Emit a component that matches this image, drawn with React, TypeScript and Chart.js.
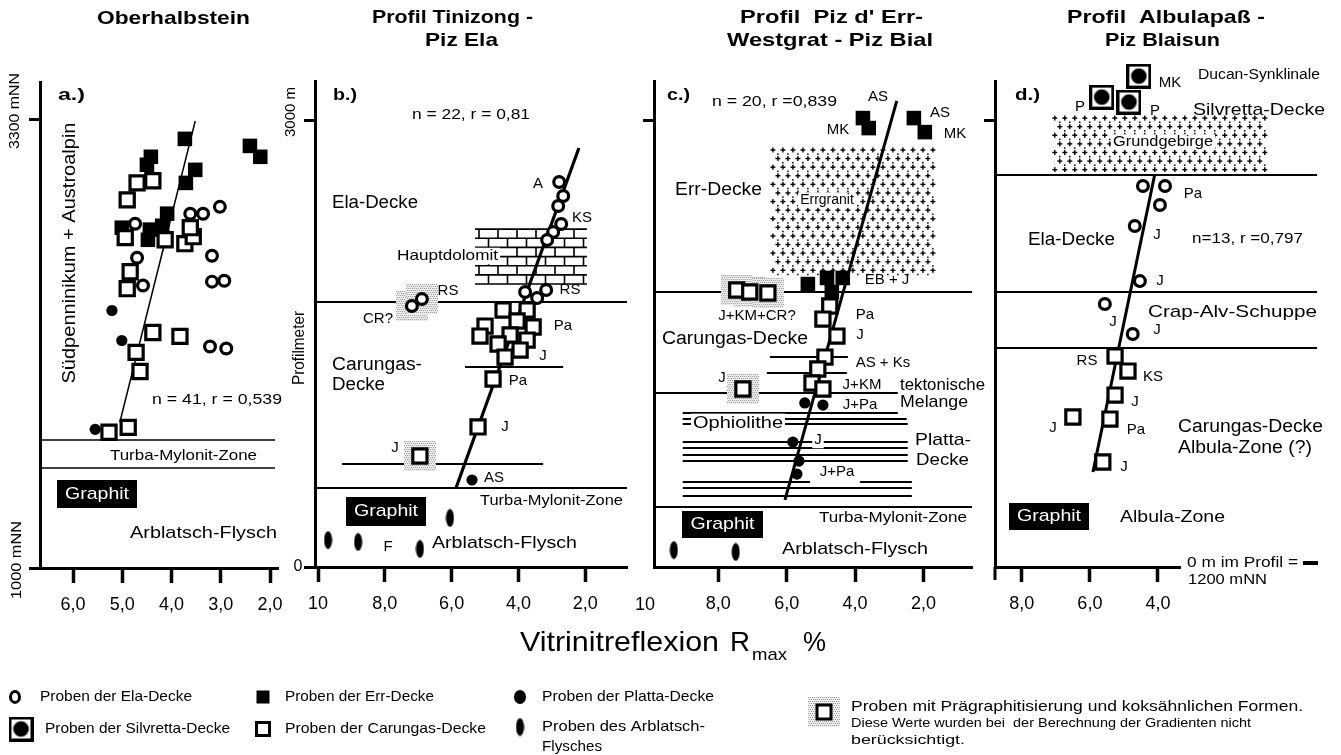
import React, { useEffect, useRef } from 'react';
import { Chart, registerables } from 'chart.js';

Chart.register(...registerables);

const W = 1341;
const H = 755;
const FONT = '"Liberation Sans", Arial, Helvetica, sans-serif';
Chart.defaults.font.family = FONT;

// ===================== DATA =====================
// Panel a – Oberhalbstein (x: Vitrinitreflexion Rmax %, y: m NN)
const aErrR = [3.73, 2.41, 2.2, 4.42, 4.5, 3.52, 3.71, 4.09, 5.01, 4.44, 4.19, 4.48];
const aErrH = [3203, 3167, 3111, 3111, 3070, 3044, 2977, 2819, 2747, 2737, 2757, 2685];
const aCarR = [4.7, 4.38, 4.9, 4.94, 4.13, 3.73, 3.56, 3.62, 4.84, 4.9, 4.38, 3.83, 4.72, 4.64, 5.27, 4.88];
const aCarH = [2977, 2988, 2890, 2696, 2685, 2665, 2701, 2747, 2521, 2434, 2209, 2189, 2107, 2009, 1697, 1722];
const aElaR = [4.74, 3.62, 3.36, 3.02, 4.7, 3.18, 3.18, 2.93, 4.58, 3.22, 2.89];
const aElaH = [2767, 2819, 2819, 2854, 2593, 2603, 2470, 2475, 2450, 2137, 2127];
const aPlaR = [5.21, 5.01, 5.55];
const aPlaH = [2322, 2168, 1712];
const aFitR = [5.05, 3.52];
const aFitH = [1748, 3295];
const aTicksR = [6, 5, 4, 3, 2];
const aTicksH = [1000, 3300];
const aBounds = [[1656, 6.67, 1.9], [1512, 6.67, 1.9]];

// Panel b – Profil Tinizong - Piz Ela (y: Profilmeter)
const bElaR = [2.78, 2.66, 2.81, 2.72, 2.96, 3.14, 3.8, 3.17, 3.44];
const bElaM = [2584, 2490, 2423, 2302, 2248, 2195, 1846, 1859, 1805];
const bCarR = [4.46, 3.74, 5.0, 4.04, 3.56, 5.15, 4.25, 3.74, 4.61, 3.95, 4.4, 4.76, 5.21];
const bCarM = [1725, 1725, 1617, 1651, 1611, 1550, 1557, 1523, 1497, 1456, 1409, 1262, 940];
const bPlaR = [5.39];
const bPlaM = [584];
const bPreElaR = [7.19, 6.89];
const bPreElaM = [1752, 1799];
const bPreCarR = [6.95];
const bPreCarM = [745];
const bArbR = [9.7, 8.8, 6.95, 6.05];
const bArbM = [181, 168, 121, 329];
const bFitR = [5.87, 2.19];
const bFitM = [530, 2812];
const bTicksR = [10, 8, 6, 4, 2];
const bTicksM = [0, 3000];
const bBounds = [[1779, 10.09, 0.75], [1342, 5.6, 2.66], [691, 9.28, 3.26], [530, 10.09, 0.75]];
const bDolomit = [5.3, 1.95, 2268, 1899];

// Panel c – Profil Piz d' Err-Westgrat - Piz Bial
const cErrR = [3.77, 3.6, 2.28, 1.96, 5.38, 4.82, 4.36, 4.68];
const cErrM = [3013, 2946, 3013, 2919, 1899, 1940, 1940, 1846];
const cCarR = [4.74, 4.94, 4.53, 4.88, 5.09, 5.26, 4.94];
const cCarM = [1752, 1664, 1550, 1409, 1329, 1235, 1195];
const cPlaR = [5.47, 4.94, 5.82, 5.64, 5.7];
const cPlaM = [1101, 1087, 839, 711, 624];
const cPreCarR = [7.46, 7.08, 6.55, 7.28];
const cPreCarM = [1859, 1846, 1839, 1195];
const cArbR = [9.3, 7.49];
const cArbM = [114, 101];
const cFitR = [6.05, 2.78];
const cFitM = [450, 3128];
const cTicksR = [8, 6, 4, 2];
const cTicksM = [3000];
const cBounds = [
  [1846, 9.88, 0.58], [1409, 6.49, 4.21], [1302, 6.58, 4.24], [1168, 9.85, 2.75],
  [1034, 9.04, 2.75], [993, 9.04, 2.49], [960, 9.04, 2.46], [839, 9.04, 2.46],
  [799, 9.04, 2.46], [752, 9.04, 2.46], [711, 9.04, 2.46], [570, 9.04, 5.32],
  [570, 3.86, 2.34], [530, 9.04, 2.34], [477, 9.04, 2.34], [403, 9.88, 0.58],
];
const cGranit = [6.49, 1.61, 2826, 1946];

// Panel d – Profil Albulapaß - Piz Blaisun
const dSilR = [4.56, 5.65, 4.85];
const dSilM = [3295, 3154, 3121];
const dElaR = [4.44, 3.79, 3.94, 4.68, 4.53, 5.56, 4.74];
const dElaM = [2557, 2557, 2430, 2289, 1919, 1765, 1564];
const dCarR = [5.26, 4.88, 5.26, 5.41, 6.5, 5.62];
const dCarM = [1416, 1315, 1154, 993, 1007, 705];
const dFitR = [5.91, 4.09];
const dFitM = [638, 2638];
const dTicksR = [8, 6, 4];
const dTicksM = [3000];
const dBounds = [[2631, 8.79, -0.68], [1846, 8.79, -0.68], [1470, 8.79, -0.68]];
const dGrund = [7.12, 0.76, 3040, 2651];

// ===================== LAYOUT (page pixels) =====================
const TA = [
  { s: 'Oberhalbstein', x: 97, y: 19, f: 19, b: true, w: 153, a: 'l' },
  { s: 'a.)', x: 58, y: 95, f: 17, b: true, w: 27, a: 'l' },
  { s: '3300 mNN', x: 15, y: 111, f: 15, r: true, w: 76 },
  { s: '1000 mNN', x: 17, y: 560, f: 15, r: true, w: 78 },
  { s: 'Südpenninikum + Austroalpin', x: 70, y: 253, f: 19, r: true, w: 261 },
  { s: 'n = 41, r = 0,539', x: 152, y: 400, f: 15, w: 130, a: 'l' },
  { s: 'Turba-Mylonit-Zone', x: 110, y: 456, f: 15, w: 147, a: 'l' },
  { s: 'Arblatsch-Flysch', x: 130, y: 533, f: 17, w: 147, a: 'l' },
];
const TB = [
  { s: 'Profil Tinizong -', x: 372, y: 18, f: 19, b: true, w: 161, a: 'l' },
  { s: 'Piz Ela', x: 425, y: 41, f: 19, b: true, w: 73, a: 'l' },
  { s: 'b.)', x: 333, y: 95, f: 17, b: true, w: 24, a: 'l' },
  { s: '3000 m', x: 291, y: 112, f: 15, r: true },
  { s: 'Profilmeter', x: 300, y: 348, f: 16, r: true, w: 74 },
  { s: '0', x: 298, y: 567, f: 16 },
  { s: 'n = 22, r = 0,81', x: 412, y: 115, f: 15, w: 118, a: 'l' },
  { s: 'Ela-Decke', x: 332, y: 203, f: 18, w: 86, a: 'l' },
  { s: 'Hauptdolomit', x: 397, y: 256, f: 15, w: 101, a: 'l', bg: true },
  { s: 'RS', x: 448, y: 291, f: 15 },
  { s: 'CR?', x: 378, y: 319, f: 15 },
  { s: 'A', x: 538, y: 184, f: 15 },
  { s: 'KS', x: 582, y: 218, f: 15 },
  { s: 'RS', x: 570, y: 290, f: 15 },
  { s: 'Pa', x: 563, y: 326, f: 15 },
  { s: 'J', x: 543, y: 356, f: 15 },
  { s: 'Pa', x: 518, y: 381, f: 15 },
  { s: 'J', x: 505, y: 427, f: 15 },
  { s: 'J', x: 395, y: 448, f: 15 },
  { s: 'AS', x: 494, y: 478, f: 15 },
  { s: 'Carungas-', x: 332, y: 365, f: 18, w: 90, a: 'l' },
  { s: 'Decke', x: 332, y: 385, f: 18, w: 53, a: 'l' },
  { s: 'Turba-Mylonit-Zone', x: 480, y: 501, f: 15, w: 143, a: 'l' },
  { s: 'F', x: 388, y: 547, f: 15 },
  { s: 'Arblatsch-Flysch', x: 432, y: 543, f: 17, w: 145, a: 'l' },
];
const TC = [
  { s: "Profil  Piz d' Err-", x: 740, y: 18, f: 19, b: true, w: 183, a: 'l' },
  { s: 'Westgrat - Piz Bial', x: 727, y: 41, f: 19, b: true, w: 206, a: 'l' },
  { s: 'c.)', x: 667, y: 95, f: 17, b: true, w: 23, a: 'l' },
  { s: 'n = 20, r =0,839', x: 712, y: 102, f: 15, w: 125, a: 'l' },
  { s: 'AS', x: 878, y: 97, f: 15 },
  { s: 'MK', x: 838, y: 130, f: 15 },
  { s: 'AS', x: 940, y: 113, f: 15 },
  { s: 'MK', x: 955, y: 134, f: 15 },
  { s: 'Err-Decke', x: 675, y: 190, f: 18, w: 87, a: 'l' },
  { s: 'Errgranit', x: 827, y: 200, f: 14, bg: true },
  { s: 'EB + J', x: 887, y: 280, f: 15 },
  { s: 'J+KM+CR?', x: 757, y: 316, f: 15 },
  { s: 'Pa', x: 865, y: 315, f: 15 },
  { s: 'J', x: 860, y: 335, f: 15 },
  { s: 'Carungas-Decke', x: 662, y: 339, f: 18, w: 146, a: 'l' },
  { s: 'AS + Ks', x: 883, y: 363, f: 15 },
  { s: 'J', x: 722, y: 378, f: 15 },
  { s: 'J+KM', x: 862, y: 385, f: 15 },
  { s: 'tektonische', x: 900, y: 385, f: 17, w: 85, a: 'l' },
  { s: 'Melange', x: 900, y: 402, f: 17, w: 68, a: 'l' },
  { s: 'J+Pa', x: 860, y: 405, f: 15 },
  { s: 'Ophiolithe', x: 693, y: 423, f: 17, w: 90, a: 'l', bg: true },
  { s: 'J', x: 818, y: 440, f: 15, bg: true },
  { s: 'J+Pa', x: 837, y: 472, f: 15, bg: true },
  { s: 'Platta-', x: 915, y: 440, f: 17, w: 56, a: 'l' },
  { s: 'Decke', x: 916, y: 460, f: 17, w: 53, a: 'l' },
  { s: 'Turba-Mylonit-Zone', x: 819, y: 518, f: 15, w: 148, a: 'l' },
  { s: 'Arblatsch-Flysch', x: 782, y: 549, f: 17, w: 146, a: 'l' },
  { s: '10', x: 645, y: 605, f: 18 },
];
const TD = [
  { s: 'Profil  Albulapaß -', x: 1067, y: 18, f: 19, b: true, w: 198, a: 'l' },
  { s: 'Piz Blaisun', x: 1105, y: 41, f: 19, b: true, w: 115, a: 'l' },
  { s: 'd.)', x: 1015, y: 95, f: 17, b: true, w: 25, a: 'l' },
  { s: 'MK', x: 1170, y: 83, f: 15 },
  { s: 'P', x: 1080, y: 107, f: 15 },
  { s: 'P', x: 1155, y: 111, f: 15 },
  { s: 'Ducan-Synklinale', x: 1198, y: 75, f: 14, w: 122, a: 'l' },
  { s: 'Silvretta-Decke', x: 1193, y: 110, f: 17, w: 132, a: 'l' },
  { s: 'Grundgebirge', x: 1113, y: 142, f: 14, w: 100, a: 'l', bg: true },
  { s: 'Pa', x: 1193, y: 194, f: 15 },
  { s: 'J', x: 1157, y: 235, f: 15 },
  { s: 'n=13, r =0,797', x: 1192, y: 239, f: 15, w: 111, a: 'l' },
  { s: 'Ela-Decke', x: 1028, y: 240, f: 18, w: 87, a: 'l' },
  { s: 'J', x: 1160, y: 281, f: 15 },
  { s: 'Crap-Alv-Schuppe', x: 1148, y: 312, f: 17, w: 169, a: 'l' },
  { s: 'J', x: 1113, y: 322, f: 15 },
  { s: 'J', x: 1157, y: 330, f: 15 },
  { s: 'RS', x: 1087, y: 361, f: 15 },
  { s: 'KS', x: 1153, y: 377, f: 15 },
  { s: 'J', x: 1135, y: 402, f: 15 },
  { s: 'J', x: 1053, y: 428, f: 15 },
  { s: 'Pa', x: 1136, y: 430, f: 15 },
  { s: 'J', x: 1124, y: 467, f: 15 },
  { s: 'Carungas-Decke', x: 1178, y: 427, f: 18, w: 145, a: 'l' },
  { s: 'Albula-Zone (?)', x: 1178, y: 448, f: 18, w: 134, a: 'l' },
  { s: 'Albula-Zone', x: 1120, y: 517, f: 17, w: 105, a: 'l' },
  { s: '0 m im Profil =', x: 1187, y: 563, f: 15, w: 111, a: 'l' },
  { s: '1200 mNN', x: 1188, y: 580, f: 15, w: 79, a: 'l' },
];
const GRAPHIT_BOXES = [[57, 480, 80, 28], [346, 497, 80, 29], [682, 511, 81, 27], [1009, 503, 80, 27]];

const LEGEND_TEXT = [
  { s: 'Proben der Ela-Decke', x: 40, y: 697, f: 15, w: 152, a: 'l' },
  { s: 'Proben der Err-Decke', x: 285, y: 697, f: 15, w: 149, a: 'l' },
  { s: 'Proben der Platta-Decke', x: 542, y: 697, f: 15, w: 172, a: 'l' },
  { s: 'Proben der Silvretta-Decke', x: 45, y: 729, f: 15, w: 185, a: 'l' },
  { s: 'Proben der Carungas-Decke', x: 285, y: 729, f: 15, w: 201, a: 'l' },
  { s: 'Proben des Arblatsch-', x: 542, y: 727, f: 15, w: 163, a: 'l' },
  { s: 'Flysches', x: 542, y: 747, f: 15, w: 60, a: 'l' },
  { s: 'Proben mit Prägraphitisierung und koksähnlichen Formen.', x: 851, y: 707, f: 15, w: 452, a: 'l' },
  { s: 'Diese Werte wurden bei  der Berechnung der Gradienten nicht', x: 851, y: 723, f: 13.5, w: 400, a: 'l' },
  { s: 'berücksichtigt.', x: 851, y: 740, f: 13.5, w: 114, a: 'l' },
  { s: 'Vitrinitreflexion', x: 520, y: 643, f: 28, w: 199, a: 'l' },
  { s: 'R', x: 730, y: 643, f: 28, w: 20, a: 'l' },
  { s: 'max', x: 752, y: 655, f: 17, w: 35, a: 'l' },
  { s: '%', x: 803, y: 643, f: 28, w: 23, a: 'l' },
];

// ===================== HELPERS =====================
function drawText(ctx: any, t: any) {
  ctx.save();
  ctx.font = `${t.b ? 'bold ' : ''}${t.f}px ${FONT}`;
  ctx.textBaseline = 'middle';
  ctx.textAlign = 'left';
  const m = ctx.measureText(t.s).width;
  const sx = t.w ? t.w / m : 1;
  const ww = m * sx;
  ctx.translate(t.x, t.y);
  if (t.r) ctx.rotate(-Math.PI / 2);
  const ox = t.a === 'l' ? 0 : -ww / 2;
  if (t.bg) {
    ctx.fillStyle = '#fff';
    ctx.fillRect(ox - 2, -t.f * 0.55, ww + 4, t.f * 1.1);
  }
  ctx.fillStyle = t.c || '#000';
  ctx.translate(ox, 0);
  ctx.scale(sx, 1);
  ctx.fillText(t.s, 0, 0);
  ctx.restore();
}

function norm(x0: number, y0: number, x1: number, y1: number) {
  return { l: Math.min(x0, x1), r: Math.max(x0, x1), t: Math.min(y0, y1), b: Math.max(y0, y1) };
}

function drawBricks(ctx: any, x0: number, y0: number, x1: number, y1: number) {
  const { l, r, t, b } = norm(x0, y0, x1, y1);
  ctx.save();
  ctx.fillStyle = '#fff';
  ctx.fillRect(l, t, r - l, b - t);
  ctx.beginPath();
  ctx.rect(l - 1, t - 1, r - l + 2, b - t + 2);
  ctx.clip();
  ctx.strokeStyle = '#000';
  ctx.lineWidth = 1.6;
  const rows = 6;
  const rh = (b - t) / rows;
  const bw = 19;
  ctx.beginPath();
  for (let i = 0; i <= rows; i++) {
    const y = t + i * rh;
    ctx.moveTo(l, y);
    ctx.lineTo(r, y);
  }
  for (let i = 0; i < rows; i++) {
    const off = (i % 2) * bw / 2;
    for (let x = l + 4 + off; x < r; x += bw) {
      ctx.moveTo(x, t + i * rh);
      ctx.lineTo(x, t + (i + 1) * rh);
    }
  }
  ctx.stroke();
  ctx.restore();
}

function drawCrosses(ctx: any, x0: number, y0: number, x1: number, y1: number) {
  const { l, r, t, b } = norm(x0, y0, x1, y1);
  ctx.save();
  ctx.fillStyle = '#fff';
  ctx.fillRect(l, t, r - l, b - t);
  ctx.beginPath();
  ctx.rect(l, t, r - l, b - t);
  ctx.clip();
  ctx.fillStyle = '#000';
  let j = 0;
  for (let y = t + 4; y < b; y += 8.6, j++) {
    for (let x = l + 3 + (j % 2) * 5; x < r; x += 10) {
      ctx.fillRect(x - 2.5, y - 0.7, 5, 1.4);
      ctx.fillRect(x - 0.7, y - 2.5, 1.4, 5);
      ctx.fillRect(x + 4.2, y + 3.4, 1.5, 1.5);
    }
  }
  ctx.restore();
}

function makeImages() {
  const mk = (w: number, h: number) => {
    const c = document.createElement('canvas');
    c.width = w;
    c.height = h;
    return [c, c.getContext('2d')] as any;
  };
  const [halo, hg] = mk(32, 30);
  hg.fillStyle = '#ededed';
  hg.fillRect(0, 0, 32, 30);
  hg.fillStyle = '#9a9a9a';
  for (let y = 0; y < 30; y += 2) for (let x = (y % 4) / 2; x < 32; x += 2) hg.fillRect(x, y, 1, 1);
  const [ell, eg] = mk(9, 19);
  eg.fillStyle = '#000';
  eg.beginPath();
  eg.ellipse(4.5, 9.5, 4, 9, 0, 0, Math.PI * 2);
  eg.fill();
  const [sil, sg] = mk(25, 25);
  sg.fillStyle = '#000';
  sg.fillRect(0, 0, 25, 25);
  sg.fillStyle = '#fff';
  sg.fillRect(3, 3, 19, 19);
  sg.fillStyle = '#000';
  sg.beginPath();
  sg.arc(12.5, 12.5, 7.8, 0, Math.PI * 2);
  sg.fill();
  return { halo, ell, sil };
}

function styleFor(kind: string, imgs: any) {
  switch (kind) {
    case 'ela':
    case 'preEla':
      return { pointStyle: 'circle', pointRadius: 5.4, pointBorderWidth: 3.2, pointBackgroundColor: '#fff', pointBorderColor: '#000' };
    case 'err':
      return { pointStyle: 'rect', pointRadius: 10.3, pointBorderWidth: 0, pointBackgroundColor: '#000', pointBorderColor: '#000' };
    case 'car':
    case 'preCar':
      return { pointStyle: 'rect', pointRadius: 10, pointBorderWidth: 3.2, pointBackgroundColor: '#fff', pointBorderColor: '#000' };
    case 'pla':
      return { pointStyle: 'circle', pointRadius: 5.6, pointBorderWidth: 0, pointBackgroundColor: '#000', pointBorderColor: '#000' };
    case 'arb':
      return { pointStyle: imgs.ell, pointRadius: 10, pointBorderWidth: 0 };
    case 'sil':
      return { pointStyle: imgs.sil, pointRadius: 14, pointBorderWidth: 0 };
    default:
      return { pointStyle: imgs.halo, pointRadius: 16, pointBorderWidth: 0 };
  }
}

const pts = (x: number[], y: number[]) => x.map((v, i) => ({ x: v, y: y[i] }));
const fmt = (v: number) => (v === 10 ? '10' : v.toFixed(1).replace('.', ','));

const SPECS: any[] = [
  {
    frame: { l: 40, r: 278, t: 82, b: 568, xMin: 1.84, xMax: 6.67, yMin: 1000, yMax: 3495 },
    xTicks: aTicksR, yTicks: aTicksH,
    series: [
      { k: 'ela', x: aElaR, y: aElaH },
      { k: 'car', x: aCarR, y: aCarH },
      { k: 'err', x: aErrR, y: aErrH },
      { k: 'pla', x: aPlaR, y: aPlaH },
    ],
    fit: { x: aFitR, y: aFitH, w: 1.5 },
    bounds: aBounds, lw: 1.6, texts: TA, global: true,
  },
  {
    frame: { l: 315, r: 627, t: 81, b: 567, xMin: 0.75, xMax: 10.09, yMin: 0, yMax: 3262 },
    xTicks: bTicksR, yTicks: bTicksM,
    series: [
      { k: 'ela', x: bElaR, y: bElaM },
      { k: 'car', x: bCarR, y: bCarM },
      { k: 'pla', x: bPlaR, y: bPlaM },
      { k: 'arb', x: bArbR, y: bArbM },
      { k: 'preEla', x: bPreElaR, y: bPreElaM },
      { k: 'preCar', x: bPreCarR, y: bPreCarM },
    ],
    fit: { x: bFitR, y: bFitM, w: 3.2 },
    bounds: bBounds, lw: 2, texts: TB, bricks: bDolomit,
  },
  {
    frame: { l: 654, r: 972, t: 81, b: 567, xMin: 0.58, xMax: 9.88, yMin: 0, yMax: 3262 },
    xTicks: cTicksR, yTicks: cTicksM,
    series: [
      { k: 'car', x: cCarR, y: cCarM },
      { k: 'err', x: cErrR, y: cErrM },
      { k: 'pla', x: cPlaR, y: cPlaM },
      { k: 'arb', x: cArbR, y: cArbM },
      { k: 'preCar', x: cPreCarR, y: cPreCarM },
    ],
    fit: { x: cFitR, y: cFitM, w: 3 },
    bounds: cBounds, lw: 1.8, texts: TC, crosses: cGranit,
  },
  {
    frame: { l: 995, r: 1180, t: 81, b: 567, xMin: 3.35, xMax: 8.79, yMin: 0, yMax: 3262 },
    xTicks: dTicksR, yTicks: dTicksM,
    series: [
      { k: 'sil', x: dSilR, y: dSilM },
      { k: 'ela', x: dElaR, y: dElaM },
      { k: 'car', x: dCarR, y: dCarM },
    ],
    fit: { x: dFitR, y: dFitM, w: 3 },
    bounds: dBounds, lw: 2.2, texts: TD, crosses: dGrund, axisStub: true,
  },
];

function drawGlobal(ctx: any, imgs: any) {
  ctx.save();
  for (const [x, y, w, h] of GRAPHIT_BOXES) {
    ctx.fillStyle = '#000';
    ctx.fillRect(x, y, w, h);
    drawText(ctx, { s: 'Graphit', x: x + w / 2, y: y + h / 2, f: 17, w: 64, c: '#fff' });
  }
  ctx.fillStyle = '#000';
  ctx.fillRect(1303, 561, 15, 4);
  ctx.strokeStyle = '#000';
  ctx.lineWidth = 3;
  ctx.beginPath();
  ctx.ellipse(15, 697, 4.5, 5.5, 0, 0, Math.PI * 2);
  ctx.stroke();
  ctx.fillRect(256.5, 690.5, 13, 13);
  ctx.beginPath();
  ctx.ellipse(520, 697, 6, 7, 0, 0, Math.PI * 2);
  ctx.fill();
  ctx.drawImage(imgs.sil, 21 - 12.5, 729 - 12.5);
  ctx.strokeRect(256.5, 722.5, 13, 13);
  ctx.drawImage(imgs.ell, 520 - 4.5, 727 - 9.5);
  ctx.drawImage(imgs.halo, 824 - 16, 712 - 15);
  ctx.fillStyle = '#fff';
  ctx.fillRect(817, 705, 14, 14);
  ctx.strokeRect(817, 705, 14, 14);
  for (const t of LEGEND_TEXT) drawText(ctx, t);
  ctx.restore();
}

function makeChart(canvas: HTMLCanvasElement, spec: any, imgs: any) {
  const f = spec.frame;
  const marks = spec.series.map((s: any) => ({
    type: 'scatter',
    data: pts(s.x, s.y),
    showLine: false,
    clip: false,
    ...styleFor(s.k, imgs),
  }));
  const halos = spec.series
    .filter((s: any) => s.k === 'preEla' || s.k === 'preCar')
    .map((s: any) => ({ type: 'scatter', data: pts(s.x, s.y), showLine: false, clip: false, ...styleFor('halo', imgs) }));
  const fit = {
    type: 'scatter',
    data: pts(spec.fit.x, spec.fit.y),
    showLine: true,
    borderColor: '#000',
    borderWidth: spec.fit.w,
    pointRadius: 0,
    clip: false,
  };
  const plugin = {
    id: 'geo',
    beforeDatasetsDraw(chart: any) {
      const ctx = chart.ctx;
      const X = (v: number) => chart.scales.x.getPixelForValue(v);
      const Y = (v: number) => chart.scales.y.getPixelForValue(v);
      ctx.save();
      if (spec.bricks) {
        const [a, b, c, d] = spec.bricks;
        drawBricks(ctx, X(a), Y(c), X(b), Y(d));
      }
      if (spec.crosses) {
        const [a, b, c, d] = spec.crosses;
        drawCrosses(ctx, X(a), Y(c), X(b), Y(d));
      }
      ctx.strokeStyle = '#000';
      ctx.lineWidth = spec.lw;
      for (const [m, r0, r1] of spec.bounds) {
        const y = Math.round(Y(m));
        ctx.beginPath();
        ctx.moveTo(X(r0), y);
        ctx.lineTo(X(r1), y);
        ctx.stroke();
      }
      if (spec.axisStub) {
        const ca = chart.chartArea;
        ctx.lineWidth = 3;
        ctx.beginPath();
        ctx.moveTo(ca.left, ca.bottom);
        ctx.lineTo(ca.left, ca.bottom + 13);
        ctx.stroke();
      }
      for (const t of spec.texts) drawText(ctx, t);
      ctx.restore();
    },
    afterDraw(chart: any) {
      if (spec.global) drawGlobal(chart.ctx, imgs);
    },
  };
  return new Chart(canvas, {
    type: 'scatter',
    data: { datasets: [...marks, fit, ...halos] as any },
    options: {
      responsive: false,
      animation: false,
      events: [],
      devicePixelRatio: 1,
      layout: { padding: { left: f.l, right: W - f.r, top: f.t, bottom: 0 } },
      plugins: { legend: { display: false }, tooltip: { enabled: false }, title: { display: false } },
      scales: {
        x: {
          type: 'linear',
          reverse: true,
          min: f.xMin,
          max: f.xMax,
          afterBuildTicks: (s: any) => { s.ticks = spec.xTicks.map((v: number) => ({ value: v })); },
          afterFit: (s: any) => { s.height = H - f.b; },
          border: { display: true, color: '#000', width: 3 },
          grid: { display: true, drawOnChartArea: false, drawTicks: true, tickLength: 15, tickWidth: 3.5, tickColor: '#000', color: '#000' },
          ticks: { color: '#000', padding: 11, autoSkip: false, maxRotation: 0, minRotation: 0, font: { size: 18, family: FONT }, callback: (v: any) => fmt(Number(v)) },
        },
        y: {
          type: 'linear',
          min: f.yMin,
          max: f.yMax,
          afterBuildTicks: (s: any) => { s.ticks = spec.yTicks.map((v: number) => ({ value: v })); },
          afterFit: (s: any) => { s.width = 0; },
          border: { display: true, color: '#000', width: 3 },
          grid: { display: true, drawOnChartArea: false, drawTicks: true, tickLength: 11, tickWidth: 3, tickColor: '#000', color: '#000' },
          ticks: { display: false },
        },
      },
    } as any,
    plugins: [plugin as any],
  });
}

export default function App() {
  const r0 = useRef<HTMLCanvasElement>(null);
  const r1 = useRef<HTMLCanvasElement>(null);
  const r2 = useRef<HTMLCanvasElement>(null);
  const r3 = useRef<HTMLCanvasElement>(null);
  const refs = [r0, r1, r2, r3];
  useEffect(() => {
    const imgs = makeImages();
    const charts = SPECS.map((s, i) => makeChart(refs[i].current as HTMLCanvasElement, s, imgs));
    return () => charts.forEach((c) => c.destroy());
  }, []);
  return (
    <div style={{ position: 'absolute', left: 0, top: 0, width: W, height: H, background: '#fff', overflow: 'hidden' }}>
      {refs.map((r, i) => (
        <canvas key={i} ref={r} width={W} height={H} style={{ position: 'absolute', left: 0, top: 0, width: W, height: H }} />
      ))}
    </div>
  );
}
